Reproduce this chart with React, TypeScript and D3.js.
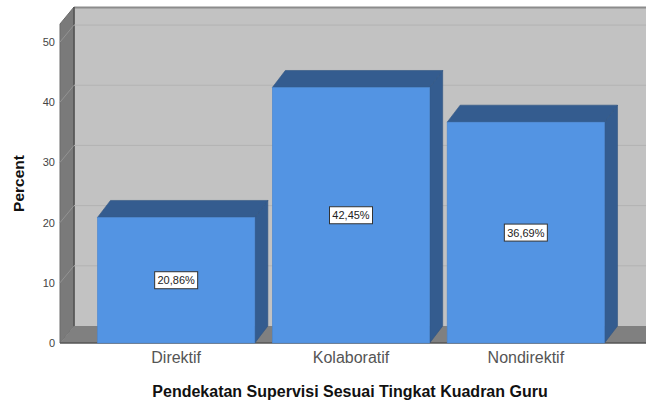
import * as d3 from "d3";
import React from "react";

const categories = ["Direktif", "Kolaboratif", "Nondirektif"];
const percents = [20.86, 42.45, 36.69];
const barLabels = ["20,86%", "42,45%", "36,69%"];
const yTicks = [0, 10, 20, 30, 40, 50];

const xTitle = "Pendekatan Supervisi Sesuai Tingkat Kuadran Guru";
const yTitle = "Percent";

export default function App(): React.ReactElement {
  const width = 646;
  const height = 402;
  // 3D depth offset
  const dx = 14;
  const dy = -17;
  const bdx = 13;
  const left = 60;
  const right = 650;

  const y = d3.scaleLinear().domain([0, 53]).range([343, 24]);
  const x = d3
    .scaleBand<string>()
    .domain(categories)
    .range([80, 622])
    .paddingInner(0.1)
    .paddingOuter(0.1);

  const y0 = y(0);
  const yTop = y(53);
  const font = "'Liberation Sans', Arial, sans-serif";

  const pts = (p: [number, number][]) => p.map((d) => d.join(",")).join(" ");

  return (
    <svg
      width={width}
      height={height}
      style={{ position: "absolute", left: 0, top: 0, background: "#fff" }}
      fontFamily={font}
    >
      {/* back wall */}
      <rect x={left + dx} y={yTop + dy} width={right - left} height={y0 - yTop} fill="#c2c2c2" />
      <line x1={left + dx} x2={right + dx} y1={yTop + dy + 0.5} y2={yTop + dy + 0.5} stroke="#8c8c8c" strokeWidth={2} />
      {/* left wall */}
      <polygon
        points={pts([
          [left, yTop],
          [left + dx, yTop + dy],
          [left + dx, y0 + dy],
          [left, y0],
        ])}
        fill="#7a7a7a"
        stroke="#6a6a6a"
      />
      <line x1={left + dx} x2={left + dx} y1={yTop + dy} y2={y0 + dy} stroke="#555" strokeWidth={1.5} />
      {/* floor */}
      <polygon
        points={pts([
          [left, y0],
          [left + dx, y0 + dy],
          [right + dx, y0 + dy],
          [right, y0],
        ])}
        fill="#808080"
      />
      <line x1={left} x2={right} y1={y0} y2={y0} stroke="#555" strokeWidth={1.5} />

      {/* grid lines */}
      {yTicks
        .filter((t) => t > 0)
        .map((t) => (
          <g key={`g-${t}`}>
            <line x1={left} y1={y(t)} x2={left + dx} y2={y(t) + dy} stroke="#939393" strokeWidth={1} />
            <line x1={left + dx} y1={y(t) + dy} x2={right + dx} y2={y(t) + dy} stroke="#b3b3b3" strokeWidth={1} />
          </g>
        ))}

      {/* y tick labels */}
      {yTicks.map((t) => (
        <text key={`yt-${t}`} x={55} y={y(t) + 4} fontSize={11} fill="#444" textAnchor="end">
          {t}
        </text>
      ))}

      {/* bars */}
      {categories.map((c, i) => {
        const x0 = x(c) ?? 0;
        const x1 = x0 + x.bandwidth();
        const yv = y(percents[i]);
        return (
          <g key={`bar-${c}`}>
            <polygon
              points={pts([
                [x1, yv],
                [x1 + bdx, yv + dy],
                [x1 + bdx, y0 + dy],
                [x1, y0],
              ])}
              fill="#345c8f"
              stroke="#2f5482"
              strokeWidth={0.6}
            />
            <polygon
              points={pts([
                [x0, yv],
                [x0 + bdx, yv + dy],
                [x1 + bdx, yv + dy],
                [x1, yv],
              ])}
              fill="#345c8f"
              stroke="#2f5482"
              strokeWidth={0.6}
            />
            <rect x={x0} y={yv} width={x1 - x0} height={y0 - yv} fill="#5394e3" stroke="#4a86cf" strokeWidth={0.6} />
            <rect
              x={(x0 + x1) / 2 - 21.5}
              y={y(percents[i] / 2) - 8.5}
              width={43}
              height={17}
              fill="#fff"
              stroke="#333"
              strokeWidth={1}
            />
            <text x={(x0 + x1) / 2} y={y(percents[i] / 2) + 4} fontSize={11} fill="#222" textAnchor="middle">
              {barLabels[i]}
            </text>
          </g>
        );
      })}

      {/* x labels */}
      {categories.map((c) => (
        <text
          key={`xl-${c}`}
          x={(x(c) ?? 0) + x.bandwidth() / 2}
          y={363}
          fontSize={16}
          fill="#555"
          textAnchor="middle"
        >
          {c}
        </text>
      ))}

      <text x={350} y={397} fontSize={16} fontWeight="bold" fill="#111" textAnchor="middle">
        {xTitle}
      </text>
      <text
        transform={`translate(24,${y(26.5)}) rotate(-90)`}
        fontSize={15.5}
        fontWeight="bold"
        fill="#111"
        textAnchor="middle"
      >
        {yTitle}
      </text>
    </svg>
  );
}
